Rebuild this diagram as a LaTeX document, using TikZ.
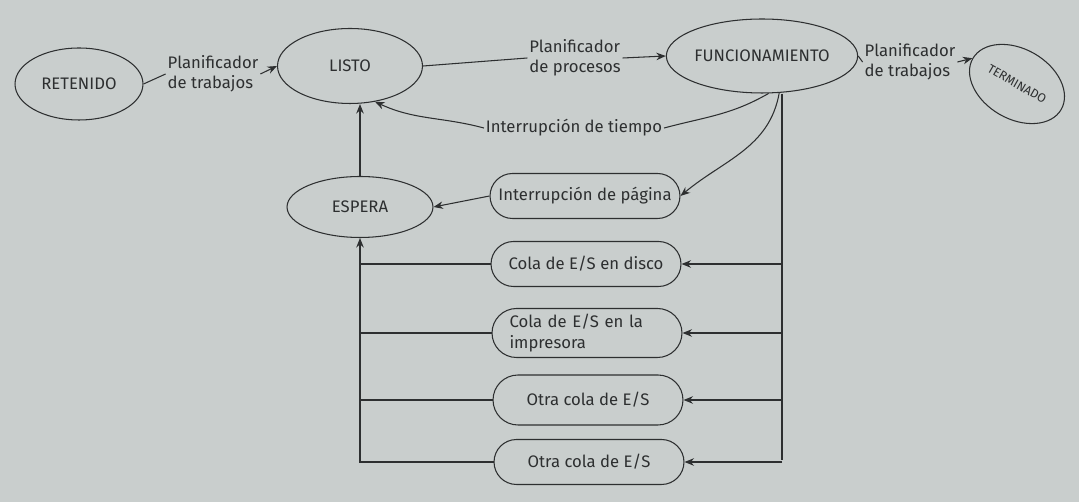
\documentclass[tikz,border=0pt]{standalone}
\usepackage{fontspec}
\setmainfont{Fira Sans}
\usetikzlibrary{arrows.meta,shapes.geometric,shapes.misc,calc}
\definecolor{pagebg}{RGB}{201,206,205}
\definecolor{ink}{RGB}{45,47,48}
\tikzset{
  estado/.style={ellipse, draw=ink, line width=0.6pt, text=ink, inner sep=0pt},
  cola/.style={rounded rectangle, draw=ink, line width=0.6pt, text=ink,
    minimum width=3.94cm, minimum height=0.9cm, align=left, inner sep=2pt},
  etiq/.style={text=ink, align=left, inner sep=1pt},
  flujo/.style={-{Stealth[length=1.9mm, width=1.5mm]}, line width=0.6pt, draw=ink},
  linea/.style={line width=0.6pt, draw=ink},
}

\begin{document}
\begin{tikzpicture}[x=0.02cm, y=-0.02cm, font=\fontsize{9.5}{11.5}\selectfont]
  \fill[pagebg] (0,0) rectangle (1079,502);
  % estados
  \node[estado, minimum width=2.56cm, minimum height=1.44cm] (ret) at (79,84) {RETENIDO};
  \node[estado, minimum width=2.9cm, minimum height=1.5cm] (listo) at (350,66) {LISTO};
  \node[estado, minimum width=3.2cm, minimum height=1.48cm] (func) at (762,56) {FUNCIONAMIENTO};
  \node[estado, rotate=-30, minimum width=2.04cm, minimum height=1.4cm,
        font=\fontsize{7}{8}\selectfont] (term) at (1017,84) {TERMINADO};
  \node[estado, minimum width=2.92cm, minimum height=1.22cm] (espera) at (360,207) {ESPERA};
  % colas
  \node[cola] (pagina) at (585,196) {Interrupción de página};
  \node[cola] (disco) at (586,264) {Cola de E/S en disco};
  \node[cola, minimum height=0.98cm, text width=3.1cm] (impr) at (587,333) {Cola de E/S en la\\impresora};
  \node[cola, minimum height=1.0cm] (otra) at (588,400) {Otra cola de E/S};
  \node[cola] (otrab) at (589,462) {Otra cola de E/S};
  % etiquetas
  \node[etiq] (pt1) at (213,74) {Planificador\\de trabajos};
  \node[etiq] (pp) at (575,58) {Planificador\\de procesos};
  \node[etiq] (pt2) at (910,62) {Planificador\\de trabajos};
  \node[etiq] (tiempo) at (574,128) {Interrupción de tiempo};
  \coordinate (busR) at (782,460);

  \draw[linea] (ret.east) -- (pt1.west);
  \draw[flujo] (pt1.east) -- (listo.west);
  \draw[linea] (listo.east) -- (pp.west);
  \draw[flujo] (pp.east) -- (func.west);
  \draw[linea] (func.east) -- (pt2.west);
  \draw[flujo] (pt2.east) -- (term.west);
  \draw[linea] (func.-80) to[out=-150, in=15] (tiempo.east);
  \draw[flujo] (tiempo.west) to[out=165, in=-25] (listo.-55);
  \draw[flujo] (func.-65) to[out=-100, in=40] (pagina.east);
  \draw[flujo] (pagina.west) -- (espera.east);
  \draw[flujo] (espera.north) -- (espera.north |- listo.south);
  % salida derecha
  \draw[linea] (func.south -| busR) -- (busR);
  \foreach \c in {disco, impr, otra, otrab}
    \draw[flujo] (busR |- \c) -- (\c.east);
  % retorno izquierdo
  \draw[flujo] (otrab.west) -| (espera.south);
  \foreach \c in {disco, impr, otra}
    \draw[linea] (\c.west) -- (espera.south |- \c.west);
\end{tikzpicture}
\end{document}
